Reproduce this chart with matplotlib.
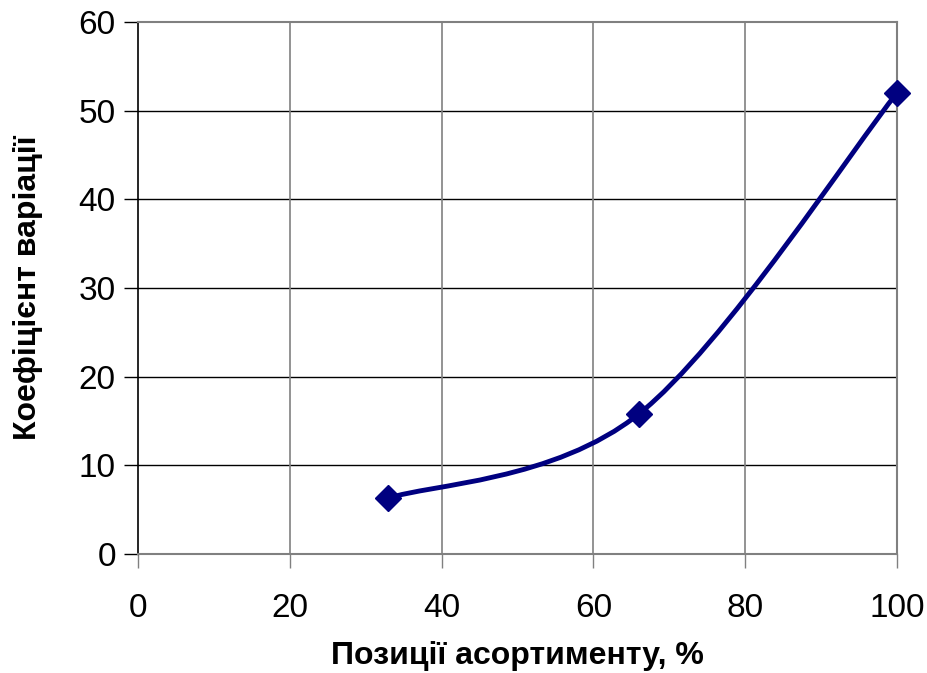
import numpy as np
import matplotlib
matplotlib.use('Agg')
import matplotlib.pyplot as plt
from matplotlib.path import Path
from matplotlib.patches import PathPatch

plt.rcParams['font.family'] = ['Liberation Sans', 'DejaVu Sans']

# Data
positions = [33, 66, 100]
variation = [6.3, 15.8, 52.0]

x_ticks = [0, 20, 40, 60, 80, 100]
y_ticks = [0, 10, 20, 30, 40, 50, 60]

LINE_COLOR = '#000080'


def smooth_path(xs, ys):
    # Excel-style smoothed line: cubic Bezier segments through the points
    pts = np.column_stack([xs, ys]).astype(float)
    n = len(pts)
    verts = [pts[0]]
    codes = [Path.MOVETO]
    for i in range(n - 1):
        p_prev = pts[i - 1] if i > 0 else pts[i]
        p0 = pts[i]
        p1 = pts[i + 1]
        p_next = pts[i + 2] if i + 2 < n else pts[i + 1]
        c1 = p0 + (p1 - p_prev) / 6.0
        c2 = p1 - (p_next - p0) / 6.0
        verts += [c1, c2, p1]
        codes += [Path.CURVE4] * 3
    return Path(verts, codes)


fig = plt.figure(figsize=(9.28, 6.73), dpi=100)
ax = fig.add_axes([0.1487, 0.1768, 0.8179, 0.7905])

ax.set_xlim(0, 100)
ax.set_ylim(0, 60)
ax.set_xticks(x_ticks)
ax.set_yticks(y_ticks)

# grid: horizontal black, vertical grey
for y in y_ticks[1:-1]:
    ax.axhline(y, color='black', linewidth=1.0, zorder=1)
for x in x_ticks[1:-1]:
    ax.axvline(x, color='#808080', linewidth=1.2, zorder=1)

ax.spines['left'].set_color('black')
ax.spines['left'].set_linewidth(1.2)
for s in ['top', 'right', 'bottom']:
    ax.spines[s].set_color('#808080')
    ax.spines[s].set_linewidth(1.5)

ax.tick_params(axis='both', direction='out', length=10, width=1.0,
               labelsize=24, colors='black', pad=6)
ax.tick_params(axis='x', color='#808080', pad=18)

patch = PathPatch(smooth_path(positions, variation), facecolor='none',
                  edgecolor=LINE_COLOR, linewidth=3.5, zorder=3,
                  capstyle='round', joinstyle='round')
ax.add_patch(patch)
ax.plot(positions, variation, linestyle='none', marker='D', markersize=13,
        color=LINE_COLOR, zorder=4, clip_on=False)

ax.set_xlabel('Позиції асортименту, %', fontsize=23, fontweight='bold', labelpad=12)
ax.set_ylabel('Коефіцієнт варіації', fontsize=23, fontweight='bold', labelpad=26)

fig.savefig('out.png', dpi=100)
